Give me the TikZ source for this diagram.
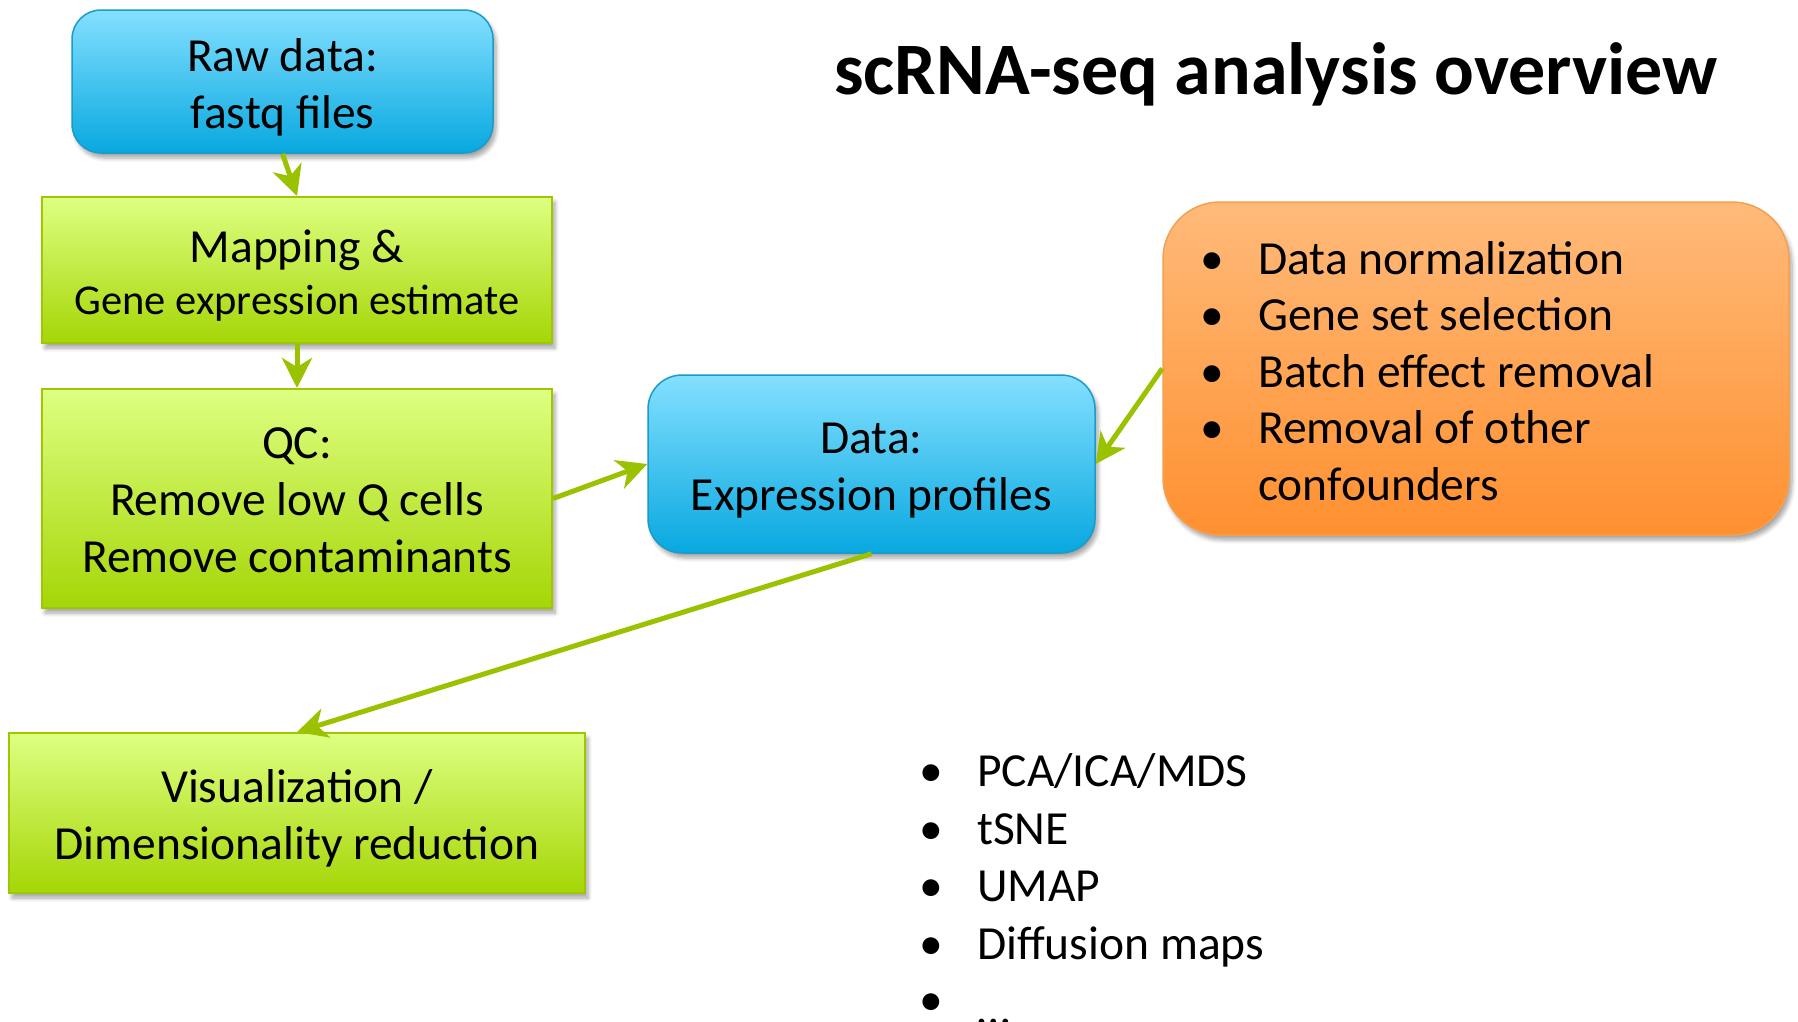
\documentclass[tikz,border=0pt]{standalone}
\usepackage{fontspec}
\setmainfont{Carlito}
\usetikzlibrary{shadows.blur,arrows.meta}
\definecolor{bluetop}{HTML}{84E0FF}
\definecolor{bluebot}{HTML}{08A8E0}
\definecolor{blueedge}{HTML}{1B9BC8}
\definecolor{greentop}{HTML}{DEFF82}
\definecolor{greenbot}{HTML}{A5D606}
\definecolor{greenedge}{HTML}{9DC800}
\definecolor{orangetop}{HTML}{FFBA7A}
\definecolor{orangebot}{HTML}{FF9030}
\definecolor{orangeedge}{HTML}{F4A050}
\definecolor{arrowgreen}{HTML}{9BC200}
\newcommand\mystrut[1]{\rule{0pt}{#1pt}}
\begin{document}
\begin{tikzpicture}[x=1pt,y=-1pt,
 bodyfont/.style={font=\fontsize{47.5}{57}\selectfont},
 boxshadow/.style={blur shadow={shadow xshift=3pt,shadow yshift=-5pt,shadow blur steps=6,shadow opacity=35,shadow blur radius=4pt}},
 bluebox/.style={draw=blueedge,line width=1.5pt,top color=bluetop,bottom color=bluebot,rounded corners=29pt,boxshadow,align=center,inner sep=0pt,bodyfont},
 greenbox/.style={draw=greenedge,line width=2pt,top color=greentop,bottom color=greenbot,boxshadow,align=center,inner sep=0pt,bodyfont},
 orangebox/.style={draw=orangeedge,line width=1.5pt,top color=orangetop,bottom color=orangebot,rounded corners=57pt,boxshadow,inner sep=0pt},
 flow/.style={draw=arrowgreen,line width=5pt,-{Stealth[length=30pt,width=30pt,inset=9pt]}},
 itemtext/.style={anchor=base west,inner sep=0pt,bodyfont},
 itembullet/.style={anchor=base,inner sep=0pt,bodyfont},
]
\useasboundingbox (0,0) rectangle (1798,1021);

\node[bluebox,minimum width=421pt,minimum height=143pt] (raw) at (282.5,81.5) {\mystrut{45}Raw data:\\fastq files};
\node[greenbox,minimum width=510pt,minimum height=146pt] (map) at (297,270) {\mystrut{43}Mapping \&\\[-5pt]{\fontsize{42.5}{50}\selectfont Gene expression estimate}};
\node[greenbox,minimum width=510pt,minimum height=219pt] (qc) at (297,498.5) {\mystrut{35}QC:\\Remove low Q cells\\Remove contaminants};
\node[bluebox,rounded corners=34pt,minimum width=447pt,minimum height=178pt] (data) at (871.5,464) {\mystrut{44}Data:\\Expression profiles};
\node[orangebox,minimum width=626pt,minimum height=333pt] (orange) at (1476,368.5) {};
\node[greenbox,minimum width=576pt,minimum height=160pt] (vis) at (297,813) {\mystrut{44}Visualization /\\Dimensionality reduction};

\node[font=\fontsize{74}{88}\selectfont\bfseries,anchor=base,inner sep=0pt] (title) at (1276,94) {scRNA-seq analysis overview};

% orange list
\foreach \y/\t [count=\i] in {274/Data normalization,330.5/Gene set selection,387/Batch effect removal,443.5/Removal of other}{
  \node[itembullet] (ob\i) at (1212,\y) {•};
  \node[itemtext] (ot\i) at (1258,\y) {\t};
}
\node[itemtext] (ot5) at (1258,500) {confounders};

% bottom list
\foreach \y/\t [count=\i] in {786.7/PCA\slash ICA\slash MDS,844/tSNE,901.5/UMAP,959/Diffusion maps}{
  \node[itembullet] (bb\i) at (931,\y) {•};
  \node[itemtext] (bt\i) at (977,\y) {\t};
}
\node[itembullet] (bb5) at (931,1015) {•};
\node[itemtext] (bt5) at (977,1024) {…};

\draw[flow] (raw.south) -- (map.north);
\draw[flow] (map.south) -- (qc.north);
\draw[flow] (qc.east) -- (data.west);
\draw[flow] (orange.west) -- (data.east);
\draw[flow] (data.south) -- (vis.north);
\end{tikzpicture}
\end{document}
